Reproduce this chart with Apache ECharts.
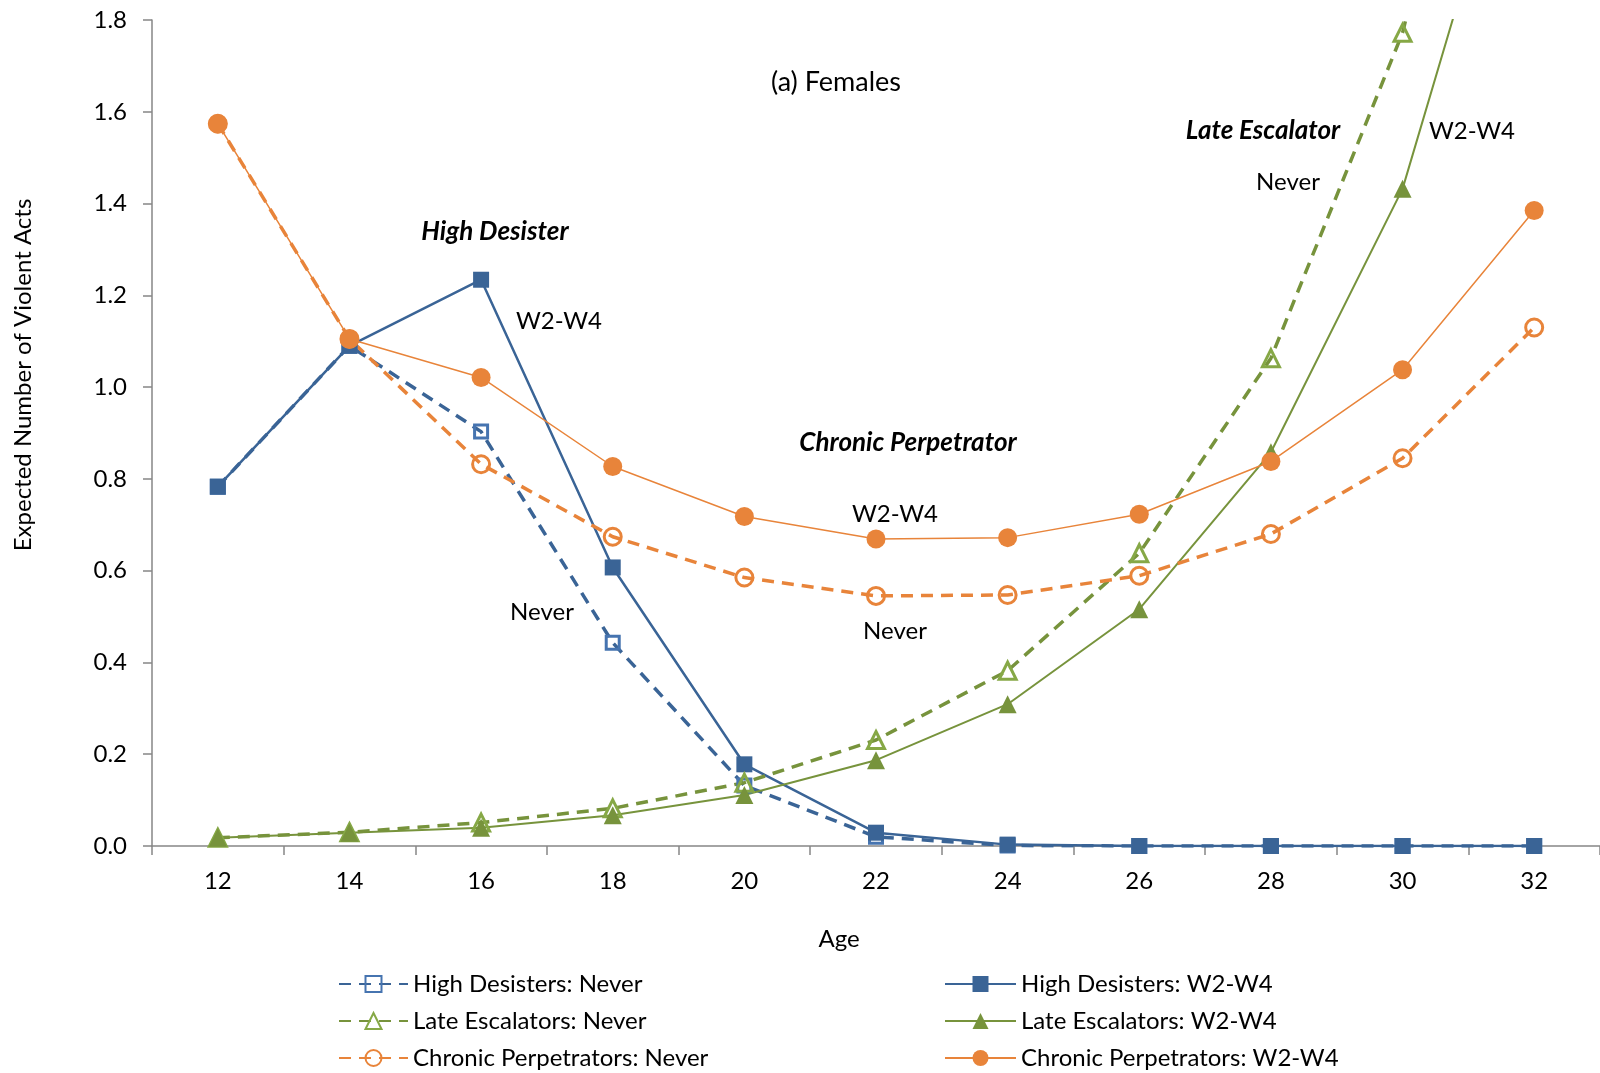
<!DOCTYPE html>
<html>
<head>
<meta charset="utf-8">
<title>(a) Females</title>
<script src="https://cdn.jsdelivr.net/npm/echarts@6/dist/echarts.min.js"></script>
<style>
  html, body { margin: 0; padding: 0; background: #ffffff; }
  #chart { width: 1600px; height: 1073px; }
</style>
</head>
<body>
<div id="chart"></div>
<script>
// Ages at which the expected counts were estimated
const ages = [12, 14, 16, 18, 20, 22, 24, 26, 28, 30, 32];

// Expected number of violent acts by trajectory group and exposure
const highDesistersNever = [0.783, 1.09, 0.903, 0.443, 0.132, 0.02, 0.001, 0, 0, 0, 0];
const highDesistersW2W4 = [0.783, 1.09, 1.234, 0.607, 0.178, 0.029, 0.003, 0, 0, 0, 0];
const lateEscalatorsNever = [0.018, 0.03, 0.051, 0.082, 0.138, 0.231, 0.382, 0.638, 1.063, 1.772, 2.95];
const lateEscalatorsW2W4 = [0.018, 0.029, 0.04, 0.067, 0.111, 0.187, 0.309, 0.516, 0.858, 1.432, 2.40];
const chronicNever = [1.574, 1.105, 0.832, 0.674, 0.585, 0.545, 0.547, 0.589, 0.68, 0.845, 1.13];
const chronicW2W4 = [1.574, 1.105, 1.021, 0.827, 0.718, 0.669, 0.672, 0.723, 0.838, 1.038, 1.385];

// Axis ticks and labels
const yTicks = [0, 0.2, 0.4, 0.6, 0.8, 1.0, 1.2, 1.4, 1.6, 1.8];
const xTickMarks = [11, 13, 15, 17, 19, 21, 23, 25, 27, 29, 31, 33];

const FONT = 'Lato, "Open Sans", sans-serif';
const BLUE = '#3a6496';
const BLUE_LIGHT = '#4674b0';
const GREEN = '#77933c';
const GREEN_LIGHT = '#86a846';
const ORANGE = '#e8843a';

const pairs = vals => ages.map((a, i) => [a, vals[i]]);

function neverSeries(name, vals, symbol, size, lineColor, markColor) {
  return {
    name, type: 'line', data: pairs(vals),
    symbol, symbolSize: size, showSymbol: true,
    lineStyle: { color: lineColor, width: 3.5, type: [12, 8] },
    itemStyle: { color: 'rgba(255,255,255,0)', borderColor: markColor, borderWidth: 3 },
    emphasis: { disabled: true },
    animation: false
  };
}
function w2w4Series(name, vals, symbol, size, color, width) {
  return {
    name, type: 'line', data: pairs(vals),
    symbol, symbolSize: size, showSymbol: true,
    lineStyle: { color, width, type: 'solid' },
    itemStyle: { color, borderWidth: 0 },
    emphasis: { disabled: true },
    animation: false
  };
}

const note = (txt, x, y, size, bold) => ({
  type: 'text', x, y,
  style: {
    text: txt, x: 0, y: 0, align: 'center', verticalAlign: 'middle',
    font: (bold ? 'italic bold ' : '') + size + 'px ' + FONT, fill: '#000'
  }
});

const legendText = { fontSize: 24, fontFamily: FONT, color: '#000', lineHeight: 24 };

const chart = echarts.init(document.getElementById('chart'));
chart.setOption({
  backgroundColor: '#ffffff',
  animation: false,
  grid: { left: 152, right: 0, top: 20, bottom: 227, containLabel: false },
  xAxis: {
    type: 'value', min: 11, max: 33, interval: 1,
    axisLine: { show: true, lineStyle: { color: '#868686', width: 1.5 } },
    axisTick: { show: true, inside: false, length: 9, customValues: xTickMarks,
                lineStyle: { color: '#868686', width: 1.5 } },
    axisLabel: { customValues: ages, margin: 23, color: '#000', fontSize: 24, fontFamily: FONT },
    splitLine: { show: false }
  },
  yAxis: {
    type: 'value', min: 0, max: 1.8, interval: 0.2,
    axisLine: { show: true, lineStyle: { color: '#868686', width: 1.5 } },
    axisTick: { show: true, inside: false, length: 9, customValues: yTicks,
                lineStyle: { color: '#868686', width: 1.5 } },
    axisLabel: { customValues: yTicks, margin: 25, color: '#000', fontSize: 24, fontFamily: FONT,
                 formatter: v => v.toFixed(1) },
    splitLine: { show: false }
  },
  legend: [
    {
      left: 338, top: 972, height: 100, padding: 0, orient: 'vertical',
      itemWidth: 69, itemHeight: 20, itemGap: 13,
      textStyle: legendText,
      data: ['High Desisters: Never', 'Late Escalators: Never', 'Chronic Perpetrators: Never']
    },
    {
      left: 944, top: 972, height: 100, padding: 0, orient: 'vertical',
      itemWidth: 71, itemHeight: 20, itemGap: 13,
      textStyle: legendText,
      data: ['High Desisters: W2-W4', 'Late Escalators: W2-W4', 'Chronic Perpetrators: W2-W4']
    }
  ],
  series: [
    neverSeries('High Desisters: Never', highDesistersNever, 'rect', 13, BLUE, BLUE_LIGHT),
    w2w4Series('High Desisters: W2-W4', highDesistersW2W4, 'rect', 16, BLUE, 2.5),
    neverSeries('Late Escalators: Never', lateEscalatorsNever, 'triangle', 17, GREEN, GREEN_LIGHT),
    w2w4Series('Late Escalators: W2-W4', lateEscalatorsW2W4, 'triangle', 18, GREEN, 2),
    neverSeries('Chronic Perpetrators: Never', chronicNever, 'circle', 17, ORANGE, ORANGE),
    w2w4Series('Chronic Perpetrators: W2-W4', chronicW2W4, 'circle', 19, ORANGE, 1.5)
  ],
  graphic: [
    note('(a) Females', 836, 82, 27, false),
    note('High Desister', 495, 232, 26, true),
    note('W2-W4', 559, 321, 24, false),
    note('Never', 542, 612, 24, false),
    note('Chronic Perpetrator', 908, 443, 26, true),
    note('W2-W4', 895, 514, 24, false),
    note('Never', 895, 631, 24, false),
    note('Late Escalator', 1263, 131, 26, true),
    note('Never', 1288, 182, 24, false),
    note('W2-W4', 1472, 131, 24, false),
    note('Age', 839, 939, 24, false),
    {
      type: 'text', x: 23, y: 375, rotation: Math.PI / 2,
      style: { text: 'Expected Number of Violent Acts', x: 0, y: 0, align: 'center', verticalAlign: 'middle',
               font: '24px ' + FONT, fill: '#000' }
    }
  ]
});
</script>
</body>
</html>
